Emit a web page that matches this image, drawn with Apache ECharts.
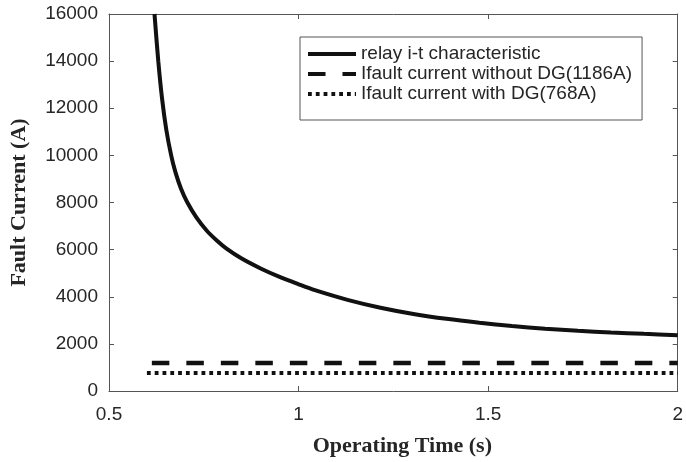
<!DOCTYPE html>
<html>
<head>
<meta charset="utf-8">
<script src="https://cdn.jsdelivr.net/npm/echarts@6/dist/echarts.min.js"></script>
<style>
  html, body { margin: 0; padding: 0; background: #fff; }
  #chart { width: 686px; height: 462px; }
</style>
</head>
<body>
<div id="chart"></div>
<script>
// Relay i-t characteristic (operating time s, fault current A)
const relayTime = [0.620, 0.630, 0.640, 0.651, 0.664, 0.675, 0.690, 0.706, 0.730, 0.758, 0.785, 0.810, 0.850, 0.900, 0.950, 1.000, 1.043, 1.129, 1.216, 1.303, 1.390, 1.477, 1.563, 1.650, 1.737, 1.824, 1.911, 2.000];
const relayCurrent = [16000, 14000, 12400, 11100, 10000, 9300, 8580, 8020, 7380, 6800, 6375, 6040, 5620, 5200, 4840, 4530, 4280, 3870, 3535, 3270, 3062, 2898, 2760, 2645, 2555, 2485, 2425, 2370];

// Fault current without DG (1186 A)
const noDgTime = [0.613, 2.0];
const noDgCurrent = [1186, 1186];

// Fault current with DG (768 A)
const withDgTime = [0.600, 2.0];
const withDgCurrent = [768, 768];

const seriesNames = ['relay i-t characteristic', 'Ifault current without DG(1186A)', 'Ifault current with DG(768A)'];

const pair = (xs, ys) => xs.map((x, i) => [x, ys[i]]);

const chart = echarts.init(document.getElementById('chart'), null, { renderer: 'canvas' });

const axisColor = '#555';
const textColor = '#262626';
const lineColor = '#111';
const tickFont = { fontFamily: 'Liberation Sans, Arial, sans-serif', fontSize: 19, color: textColor };
const nameFont = { fontFamily: 'Liberation Serif, Times New Roman, serif', fontWeight: 'bold', fontSize: 22, color: textColor };

const xBase = { type: 'value', min: 0.5, max: 2, interval: 0.5, splitLine: { show: false },
  axisLine: { show: true, onZero: false, lineStyle: { color: axisColor, width: 1 } },
  axisTick: { show: true, inside: true, length: 5, lineStyle: { color: axisColor } } };
const yBase = { type: 'value', min: 0, max: 16000, interval: 2000, splitLine: { show: false },
  axisLine: { show: true, onZero: false, lineStyle: { color: axisColor, width: 1 } },
  axisTick: { show: true, inside: true, length: 5, lineStyle: { color: axisColor } } };

chart.setOption({
  animation: false,
  backgroundColor: '#fff',
  color: [lineColor, lineColor, lineColor],
  grid: { left: 105, right: 5, top: 14, bottom: 70, containLabel: false },
  legend: {
    left: 300, top: 37, orient: 'vertical',
    data: seriesNames,
    itemWidth: 48, itemHeight: 14, itemGap: 0,
    padding: [7, 10, 16, 6],
    borderColor: '#555', borderWidth: 1, backgroundColor: '#fff',
    itemStyle: { opacity: 0 },
    lineStyle: { width: 4 },
    textStyle: { fontFamily: 'Liberation Sans, Arial, sans-serif', fontSize: 19, color: textColor, lineHeight: 20 },
    selectedMode: false
  },
  xAxis: [
    Object.assign({}, xBase, { position: 'bottom',
      name: 'Operating Time (s)', nameLocation: 'middle', nameGap: 44,
      nameTextStyle: Object.assign({ padding: [0, 0, 0, 18] }, nameFont),
      axisLabel: Object.assign({ margin: 14, formatter: v => String(v) }, tickFont) }),
    Object.assign({}, xBase, { position: 'top', axisLabel: { show: false } })
  ],
  yAxis: [
    Object.assign({}, yBase, { position: 'left',
      name: 'Fault Current (A)', nameLocation: 'middle', nameGap: 79, nameRotate: 90,
      nameTextStyle: nameFont,
      axisLabel: Object.assign({ margin: 11, formatter: v => String(v) }, tickFont) }),
    Object.assign({}, yBase, { position: 'right', axisLabel: { show: false } })
  ],
  series: [
    { name: seriesNames[0], type: 'line', xAxisIndex: 0, yAxisIndex: 0,
      data: pair(relayTime, relayCurrent), smooth: 0.3,
      showSymbol: false, symbol: 'none', clip: true,
      itemStyle: { color: lineColor },
      lineStyle: { color: lineColor, width: 4 } },
    { name: seriesNames[1], type: 'line', xAxisIndex: 0, yAxisIndex: 0,
      data: pair(noDgTime, noDgCurrent), showSymbol: false, symbol: 'none',
      itemStyle: { color: lineColor },
      lineStyle: { color: lineColor, width: 4.5, type: [17.5, 17] } },
    { name: seriesNames[2], type: 'line', xAxisIndex: 0, yAxisIndex: 0,
      data: pair(withDgTime, withDgCurrent), showSymbol: false, symbol: 'none',
      itemStyle: { color: lineColor },
      lineStyle: { color: lineColor, width: 4, type: [3.8, 4] } }
  ]
});
</script>
</body>
</html>
